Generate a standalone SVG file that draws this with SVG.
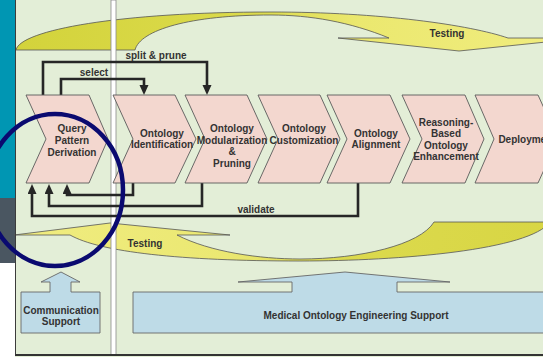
<svg xmlns="http://www.w3.org/2000/svg" width="543" height="357" viewBox="0 0 543 357">
<defs>
<style>
.t{font-family:"Liberation Sans",Arial,sans-serif;font-weight:bold;font-size:10px;fill:#333;text-anchor:middle}
.chev{fill:#f3d7cf;stroke:#5a5a5a;stroke-width:0.9}
.sup{fill:#bedbe7;stroke:#666;stroke-width:0.9}
.yel{stroke:#555;stroke-width:0.8}
.con{fill:none;stroke:#262626;stroke-width:2.6;stroke-linejoin:miter}
</style>
<linearGradient id="gTop" gradientUnits="userSpaceOnUse" x1="16" y1="0" x2="543" y2="0">
<stop offset="0" stop-color="#d3d33b"/>
<stop offset="0.45" stop-color="#dcdb4c"/>
<stop offset="0.65" stop-color="#ebe86f"/>
<stop offset="1" stop-color="#f0ec7e"/>
</linearGradient>
<linearGradient id="gBot" gradientUnits="userSpaceOnUse" x1="543" y1="0" x2="16" y2="0">
<stop offset="0" stop-color="#d8d644"/>
<stop offset="0.4" stop-color="#dcda4e"/>
<stop offset="0.6" stop-color="#ebe872"/>
<stop offset="1" stop-color="#f0ec80"/>
</linearGradient>
<marker id="ah" markerUnits="userSpaceOnUse" markerWidth="11" markerHeight="10" refX="1" refY="4.5" orient="auto">
<path d="M0,0 L10,4.5 L0,9 Z" fill="#262626"/>
</marker>
</defs>

<!-- background and frame -->
<rect x="0" y="0" width="543" height="357" fill="#e3eed7"/>
<rect x="0" y="0" width="15" height="198" fill="#0096b3"/>
<rect x="0" y="198" width="15" height="65" fill="#4a5661"/>
<rect x="0" y="263" width="15" height="94" fill="#ffffff"/>

<!-- Testing arrows -->
<g id="testing-top">
<path class="yel" fill="url(#gTop)" d="M16,50 C20,30 120,12 271,12 C380,12 470,25 508,38 L585,38 L459,51 L338,38 L389,38 C350,22 310,15 271,15 C190,15 140,30 135,50 Z"/>
<text class="t" x="447" y="37">Testing</text>
</g>
<g id="testing-bottom">
<path class="yel" fill="url(#gBot)" d="M110,223 L230,235 L177,235 C210,252 260,259 300,259 C360,259 420,245 434,222 L550,222 C530,250 400,261 300,261 C180,261 100,252 70,235 L14,235 Z"/>
<text class="t" x="145" y="247">Testing</text>
</g>

<!-- separator band and borders -->
<rect x="111" y="0" width="5" height="355" fill="#ffffff" stroke="#8a8a8a" stroke-width="0.8"/>
<line x1="15.5" y1="0" x2="15.5" y2="356" stroke="#3c3c3c" stroke-width="1"/>
<line x1="15" y1="355" x2="543" y2="355" stroke="#333" stroke-width="2"/>

<!-- connectors -->
<g id="connectors">
<path class="con" d="M43,96 V62 H207 V86" marker-end="url(#ah)"/>
<path class="con" d="M61,96 V79 H144 V86" marker-end="url(#ah)"/>
<path class="con" d="M133,183 V195 H67 V193" marker-end="url(#ah)"/>
<path class="con" d="M202,183 V206 H49 V193" marker-end="url(#ah)"/>
<path class="con" d="M358,183 V216 H32 V193" marker-end="url(#ah)"/>
<text class="t" x="156" y="58.5">split &amp; prune</text>
<text class="t" x="94" y="75.5">select</text>
<text class="t" x="256" y="213">validate</text>
</g>

<!-- chevrons -->
<g id="query-pattern-derivation">
<polygon class="chev" points="26,95 89,95 108,139 89,183 26,183 46,139"/>
<text class="t" x="72" y="131.5">Query</text>
<text class="t" x="72" y="143.5">Pattern</text>
<text class="t" x="72" y="155.5">Derivation</text>
</g>
<g id="ontology-identification">
<polygon class="chev" points="113,95 175,95 196,139 175,183 113,183 133,139"/>
<text class="t" x="162" y="136.5">Ontology</text>
<text class="t" x="162" y="148">Identification</text>
</g>
<g id="ontology-modularization">
<polygon class="chev" points="185,95 247,95 267,139 247,183 185,183 205,139"/>
<text class="t" x="232" y="131.5">Ontology</text>
<text class="t" x="232" y="143.5">Modularization</text>
<text class="t" x="232" y="155">&amp;</text>
<text class="t" x="232" y="166.5">Pruning</text>
</g>
<g id="ontology-customization">
<polygon class="chev" points="258,95 320,95 340,139 320,183 258,183 278,139"/>
<text class="t" x="304" y="131.5">Ontology</text>
<text class="t" x="304" y="143.5">Customization</text>
</g>
<g id="ontology-alignment">
<polygon class="chev" points="327,95 390,95 410,139 390,183 327,183 347,139"/>
<text class="t" x="376" y="136.5">Ontology</text>
<text class="t" x="376" y="148">Alignment</text>
</g>
<g id="reasoning-based-enhancement">
<polygon class="chev" points="402,95 465,95 484,139 465,183 402,183 422,139"/>
<text class="t" x="446" y="125.5">Reasoning-</text>
<text class="t" x="446" y="137">Based</text>
<text class="t" x="446" y="148.5">Ontology</text>
<text class="t" x="446" y="160">Enhancement</text>
</g>
<g id="deployment">
<polygon class="chev" points="475,95 538,95 558,139 538,183 475,183 494,139"/>
<text class="t" x="527" y="143">Deployment</text>
</g>

<!-- support boxes -->
<g id="communication-support">
<path class="sup" d="M21,292 H50 V282 H41 L61,272 L80,282 H71 V292 H100 V333 H21 Z"/>
<text class="t" x="61" y="313.5">Communication</text>
<text class="t" x="61" y="325">Support</text>
</g>
<g id="medical-ontology-engineering-support">
<path class="sup" d="M133,292 H292 V282 H238 L345,272 L450,282 H397 V292 H580 V333 H133 Z"/>
<text class="t" x="356" y="318.5">Medical Ontology Engineering Support</text>
</g>

<!-- highlight circle -->
<g id="highlight-circle">
<ellipse cx="55" cy="190" rx="68" ry="76" fill="none" stroke="#0a0a70" stroke-width="4.5"/>
</g>
</svg>
